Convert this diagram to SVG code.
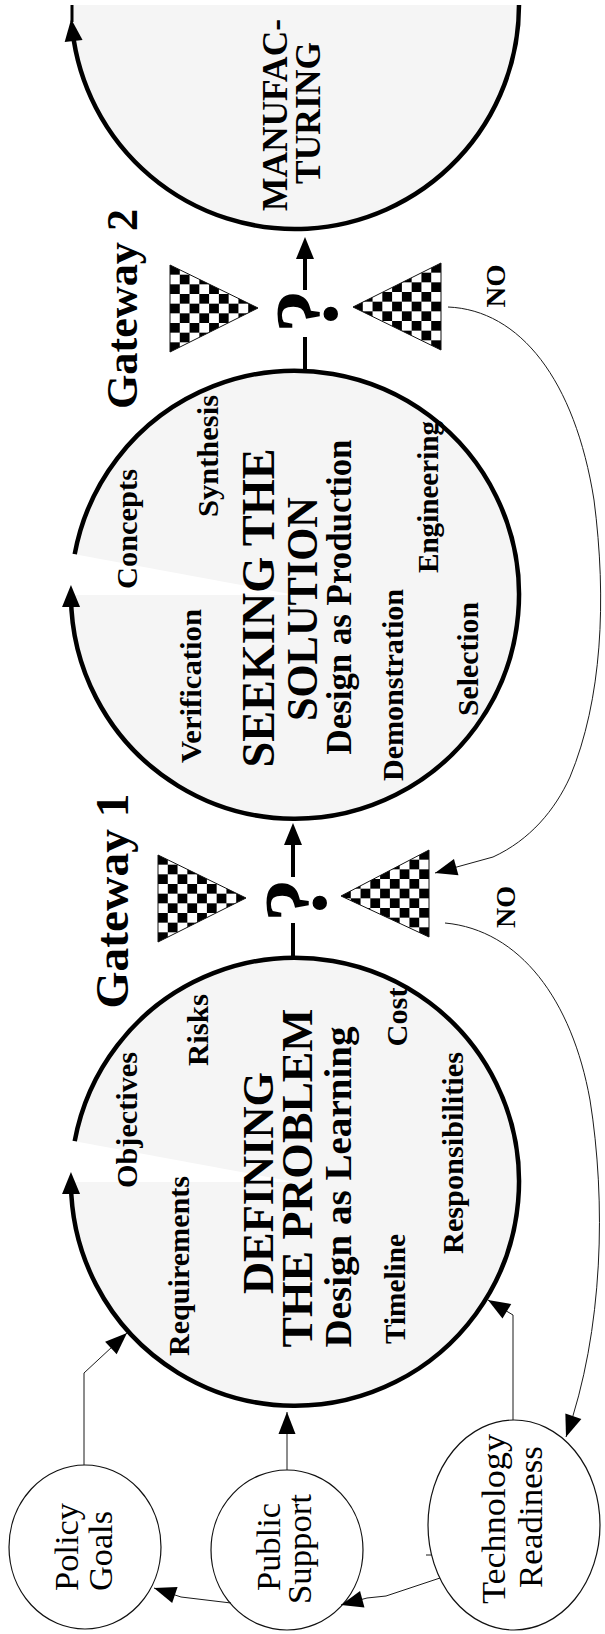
<svg xmlns="http://www.w3.org/2000/svg" width="605" height="1634" viewBox="0 0 605 1634">
<style>
.bg{fill:#ffffff}
.disc{fill:#f5f5f5;stroke:none}
.rim{fill:none;stroke:#000;stroke-width:4.5}
.gl{fill:none;stroke:#000;stroke-width:4}
.thin{fill:none;stroke:#1a1a1a;stroke-width:1}
.small{fill:#fff;stroke:#111;stroke-width:1.2}
.tri{fill:url(#chk);stroke:#111;stroke-width:1}
text{font-family:"Liberation Serif","Times New Roman",serif;fill:#000;text-anchor:middle}
.lab{font-size:30px;font-weight:bold}
.title{font-size:45px;font-weight:bold}
.gw{font-size:44px;font-weight:bold}
.no{font-size:27px;font-weight:bold}
.q{font-size:88px;font-weight:bold}
.node{font-size:34px}
.man{font-size:35px;font-weight:bold}
</style>
<defs>
<pattern id="chk" patternUnits="objectBoundingBox" patternContentUnits="objectBoundingBox" width="0.2222" height="0.2222">
<rect width="0.2222" height="0.2222" fill="#fff"/>
<rect width="0.1111" height="0.1111" fill="#000"/>
<rect x="0.1111" y="0.1111" width="0.1111" height="0.1111" fill="#000"/>
</pattern>
<marker id="big" markerUnits="userSpaceOnUse" markerWidth="24" markerHeight="20" refX="11" refY="9" orient="auto" overflow="visible">
<path d="M0,0 L22,9 L0,18 Z" fill="#000"/>
</marker>
<marker id="sm" markerUnits="userSpaceOnUse" markerWidth="24" markerHeight="18" refX="22" refY="8.5" orient="auto" overflow="visible">
<path d="M0,0 L22,8.5 L0,17 Z" fill="#000"/>
</marker>
</defs>
<rect class="bg" x="0" y="0" width="605" height="1634"/>

<g id="manufacturing">
<path class="disc" d="M71,5 A224,224 0 0,0 519,5 Z"/>
<path class="rim" d="M519,5 A224,224 0 0,1 72.4,30" marker-end="url(#big)"/>
<line x1="72" y1="5" x2="72" y2="22" stroke="#000" stroke-width="3"/>
<text class="man" textLength="192" lengthAdjust="spacingAndGlyphs" transform="translate(287,115) rotate(-90)">MANUFAC-</text>
<text class="man" textLength="142" lengthAdjust="spacingAndGlyphs" transform="translate(320,113) rotate(-90)">TURING</text>
</g>

<g id="seeking">
<path class="disc" d="M295,595 L71,595 A224,224 0 1,0 74.7,554.2 Z"/>
<path class="rim" d="M74.7,554.2 A224,224 0 1,1 71,596" marker-end="url(#big)"/>
<text class="lab" textLength="120" lengthAdjust="spacingAndGlyphs" transform="translate(137,529) rotate(-90)">Concepts</text>
<text class="lab" textLength="122" lengthAdjust="spacingAndGlyphs" transform="translate(218,456) rotate(-90)">Synthesis</text>
<text class="lab" textLength="154" lengthAdjust="spacingAndGlyphs" transform="translate(201,686) rotate(-90)">Verification</text>
<text class="title" style="font-size:46px" textLength="319" lengthAdjust="spacingAndGlyphs" transform="translate(274,608) rotate(-90)">SEEKING THE</text>
<text class="title" style="font-size:44px" textLength="224" lengthAdjust="spacingAndGlyphs" transform="translate(317,609) rotate(-90)">SOLUTION</text>
<text class="title" style="font-size:35px" textLength="315" lengthAdjust="spacingAndGlyphs" transform="translate(351,597) rotate(-90)">Design as Production</text>
<text class="lab" textLength="192" lengthAdjust="spacingAndGlyphs" transform="translate(403,685) rotate(-90)">Demonstration</text>
<text class="lab" textLength="152" lengthAdjust="spacingAndGlyphs" transform="translate(438,497) rotate(-90)">Engineering</text>
<text class="lab" textLength="114" lengthAdjust="spacingAndGlyphs" transform="translate(478,659) rotate(-90)">Selection</text>
</g>

<g id="defining">
<path class="disc" d="M295,1182 L71,1182 A224,224 0 1,0 74.7,1141.2 Z"/>
<path class="rim" d="M74.7,1141.2 A224,224 0 1,1 71,1183" marker-end="url(#big)"/>
<text class="lab" textLength="136" lengthAdjust="spacingAndGlyphs" transform="translate(137,1120) rotate(-90)">Objectives</text>
<text class="lab" textLength="72" lengthAdjust="spacingAndGlyphs" transform="translate(208,1030) rotate(-90)">Risks</text>
<text class="lab" textLength="180" lengthAdjust="spacingAndGlyphs" transform="translate(189,1266) rotate(-90)">Requirements</text>
<text class="title" style="font-size:44px" textLength="222" lengthAdjust="spacingAndGlyphs" transform="translate(273,1183) rotate(-90)">DEFINING</text>
<text class="title" textLength="339" lengthAdjust="spacingAndGlyphs" transform="translate(312,1178) rotate(-90)">THE PROBLEM</text>
<text class="title" style="font-size:38px" textLength="321" lengthAdjust="spacingAndGlyphs" transform="translate(351,1187) rotate(-90)">Design as Learning</text>
<text class="lab" textLength="59" lengthAdjust="spacingAndGlyphs" transform="translate(407,1017) rotate(-90)">Cost</text>
<text class="lab" textLength="110" lengthAdjust="spacingAndGlyphs" transform="translate(405,1289) rotate(-90)">Timeline</text>
<text class="lab" textLength="202" lengthAdjust="spacingAndGlyphs" transform="translate(463,1153) rotate(-90)">Responsibilities</text>
</g>

<g id="gateway1">
<polygon class="tri" points="158,855 158,942 246,898"/>
<polygon class="tri" points="429,850 429,937 341,896"/>
<text class="q" transform="translate(325,900) rotate(-90)">?</text>
<text class="gw" style="font-size:47px" textLength="215" lengthAdjust="spacingAndGlyphs" transform="translate(128,901) rotate(-90)">Gateway 1</text>
<text class="no" textLength="42" lengthAdjust="spacingAndGlyphs" transform="translate(515,907) rotate(-90)">NO</text>
</g>

<g id="gateway2">
<polygon class="tri" points="170,265 170,352 258,308"/>
<polygon class="tri" points="441,263 441,350 353,307"/>
<text class="q" transform="translate(336,311) rotate(-90)">?</text>
<text class="gw" textLength="200" lengthAdjust="spacingAndGlyphs" transform="translate(137,309) rotate(-90)">Gateway 2</text>
<text class="no" textLength="43" lengthAdjust="spacingAndGlyphs" transform="translate(505,286) rotate(-90)">NO</text>
</g>

<g id="policy-goals">
<ellipse class="small" cx="85" cy="1547" rx="76" ry="82"/>
<text class="node" textLength="88" lengthAdjust="spacingAndGlyphs" transform="translate(78,1547) rotate(-90)">Policy</text>
<text class="node" textLength="80" lengthAdjust="spacingAndGlyphs" transform="translate(112,1551) rotate(-90)">Goals</text>
</g>

<g id="public-support">
<ellipse class="small" cx="287" cy="1550" rx="76" ry="80"/>
<text class="node" textLength="88" lengthAdjust="spacingAndGlyphs" transform="translate(280,1547) rotate(-90)">Public</text>
<text class="node" textLength="110" lengthAdjust="spacingAndGlyphs" transform="translate(311,1549) rotate(-90)">Support</text>
</g>

<g id="technology-readiness">
<ellipse class="small" cx="514" cy="1525" rx="86" ry="105"/>
<text class="node" textLength="170" lengthAdjust="spacingAndGlyphs" transform="translate(505,1519) rotate(-90)">Technology</text>
<text class="node" textLength="142" lengthAdjust="spacingAndGlyphs" transform="translate(542,1517) rotate(-90)">Readiness</text>
</g>

<g id="connectors">
<path class="gl" d="M293,958 V923"/>
<path class="gl" d="M293,877 V834" marker-end="url(#big)"/>
<path class="gl" d="M305,371 V337"/>
<path class="gl" d="M305,290 V248" marker-end="url(#big)"/>
<path class="thin" d="M448,307 C520,310 575,380 594,500 C607,600 602,700 570,777 C555,810 530,840 493,857 L435,873" marker-end="url(#sm)"/>
<path class="thin" d="M445,923 C520,930 572,1000 590,1100 C606,1200 604,1330 566,1437" marker-end="url(#sm)"/>
<path class="thin" d="M84,1465 V1373 L127,1333" marker-end="url(#sm)"/>
<path class="thin" d="M287,1470 V1412" marker-end="url(#sm)"/>
<path class="thin" d="M513,1420 V1315 L488,1300" marker-end="url(#sm)"/>
<path class="thin" d="M440,1578 L386,1596 L367,1598 L341,1605" marker-end="url(#sm)"/>
<path class="thin" d="M231,1603 L181,1597 L154,1588" marker-end="url(#sm)"/>
<path class="thin" d="M426,1555 H432"/>
</g>
</svg>
